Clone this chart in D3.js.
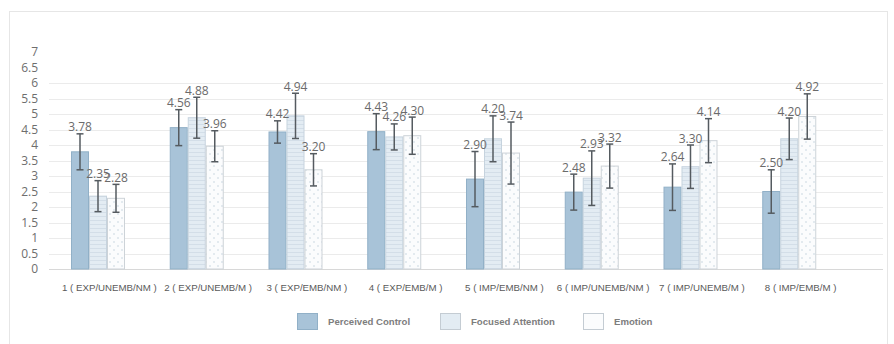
<!DOCTYPE html>
<html>
<head>
<meta charset="utf-8">
<script src="https://cdn.jsdelivr.net/npm/d3@7"></script>
<style>
  html, body { margin: 0; padding: 0; background: #ffffff; }
  svg { display: block; }
</style>
</head>
<body>
<svg id="chart" width="894" height="344"></svg>
<script>
// Conditions (category labels)
const categories = [
  "1 ( EXP/UNEMB/NM )", "2 ( EXP/UNEMB/M )", "3 ( EXP/EMB/NM )", "4 ( EXP/EMB/M )",
  "5 ( IMP/EMB/NM )", "6 ( IMP/UNEMB/NM )", "7 ( IMP/UNEMB/M )", "8 ( IMP/EMB/M )"
];
const seriesNames = ["Perceived Control", "Focused Attention", "Emotion"];

// Mean scores per condition
const perceivedControl = [3.78, 4.56, 4.42, 4.43, 2.90, 2.48, 2.64, 2.50];
const focusedAttention = [2.35, 4.88, 4.94, 4.26, 4.20, 2.93, 3.30, 4.20];
const emotion          = [2.28, 3.96, 3.20, 4.30, 3.74, 3.32, 4.14, 4.92];

// Error bar half-lengths
const perceivedControlErr = [0.58, 0.58, 0.36, 0.58, 0.89, 0.58, 0.75, 0.70];
const focusedAttentionErr = [0.50, 0.66, 0.73, 0.42, 0.74, 0.88, 0.70, 0.67];
const emotionErr          = [0.45, 0.50, 0.52, 0.60, 1.00, 0.71, 0.71, 0.73];

// Axis ticks
const yTickLabels = [0, 0.5, 1, 1.5, 2, 2.5, 3, 3.5, 4, 4.5, 5, 5.5, 6, 6.5, 7];
const gridValues  = [0, 0.5, 1, 1.5, 2, 2.5, 3, 3.5, 4, 4.5, 5, 5.5, 6];

const seriesValues = [perceivedControl, focusedAttention, emotion];
const seriesErrors = [perceivedControlErr, focusedAttentionErr, emotionErr];

const rows = [];
categories.forEach((c, i) => {
  seriesNames.forEach((s, j) => {
    rows.push({ category: c, series: s, value: seriesValues[j][i], err: seriesErrors[j][i] });
  });
});

const svg = d3.select("#chart");

// Outer frame
svg.append("rect")
  .attr("x", 9.5).attr("y", 11.5)
  .attr("width", 878).attr("height", 345)
  .attr("fill", "none").attr("stroke", "#e6e6e6").attr("stroke-width", 1);

// Fill patterns
const defs = svg.append("defs");
const faPat = defs.append("pattern")
  .attr("id", "faPattern").attr("patternUnits", "userSpaceOnUse")
  .attr("width", 4).attr("height", 4);
faPat.append("rect").attr("width", 4).attr("height", 4).attr("fill", "#e3ecf3");
faPat.append("line").attr("x1", 0).attr("x2", 4).attr("y1", 0.5).attr("y2", 0.5)
  .attr("stroke", "#d3dee8").attr("stroke-width", 1);

const emPat = defs.append("pattern")
  .attr("id", "emPattern").attr("patternUnits", "userSpaceOnUse")
  .attr("width", 8).attr("height", 8);
emPat.append("rect").attr("width", 8).attr("height", 8).attr("fill", "#fbfcfd");
emPat.append("circle").attr("cx", 2).attr("cy", 2).attr("r", 0.8).attr("fill", "#c5d3df");
emPat.append("circle").attr("cx", 6).attr("cy", 6).attr("r", 0.8).attr("fill", "#c5d3df");

const fills   = { "Perceived Control": "#a8c3d8", "Focused Attention": "url(#faPattern)", "Emotion": "url(#emPattern)" };
const strokes = { "Perceived Control": "#91b0c7", "Focused Attention": "#c6d3de", "Emotion": "#cdd3d8" };
const legendFills = { "Perceived Control": "#a8c3d8", "Focused Attention": "#e3ecf3", "Emotion": "#fbfcfd" };

// Scales
const y = d3.scaleLinear().domain([0, 7]).range([269, 52]);
const x = d3.scaleBand().domain(categories).range([60, 850]).padding(0);
const xSub = d3.scaleBand().domain(seriesNames).range([11, 65]).padding(0);

// Grid lines
svg.append("g").selectAll("line")
  .data(gridValues)
  .join("line")
  .attr("x1", 49).attr("x2", 883)
  .attr("y1", d => Math.round(y(d)) + 0.5).attr("y2", d => Math.round(y(d)) + 0.5)
  .attr("stroke", d => d === 0 ? "#d8d8d8" : "#ebebeb")
  .attr("stroke-width", 1);

// Y tick labels
svg.append("g").selectAll("text")
  .data(yTickLabels)
  .join("text")
  .attr("x", 38).attr("y", d => y(d))
  .attr("dy", "0.36em")
  .attr("text-anchor", "end")
  .attr("font-family", "'Open Sans', sans-serif")
  .attr("font-size", 12)
  .attr("fill", "#6e6e6e")
  .text(d => d);

// Bars
const barGroup = svg.append("g");
barGroup.selectAll("rect")
  .data(rows)
  .join("rect")
  .attr("x", d => x(d.category) + xSub(d.series) + 0.5)
  .attr("y", d => y(d.value))
  .attr("width", xSub.bandwidth() - 1)
  .attr("height", d => y(0) - y(d.value))
  .attr("fill", d => fills[d.series])
  .attr("stroke", d => strokes[d.series])
  .attr("stroke-width", 1);

// Error bars
const errG = svg.append("g").attr("stroke", "#555b60").attr("stroke-width", 1.5);
const cx = d => x(d.category) + xSub(d.series) + xSub.bandwidth() / 2;
errG.selectAll("line.stem").data(rows).join("line")
  .attr("class", "stem")
  .attr("x1", cx).attr("x2", cx)
  .attr("y1", d => y(d.value + d.err)).attr("y2", d => y(d.value - d.err));
errG.selectAll("line.capTop").data(rows).join("line")
  .attr("class", "capTop")
  .attr("x1", d => cx(d) - 3.5).attr("x2", d => cx(d) + 3.5)
  .attr("y1", d => y(d.value + d.err)).attr("y2", d => y(d.value + d.err));
errG.selectAll("line.capBot").data(rows).join("line")
  .attr("class", "capBot")
  .attr("x1", d => cx(d) - 3.5).attr("x2", d => cx(d) + 3.5)
  .attr("y1", d => y(d.value - d.err)).attr("y2", d => y(d.value - d.err));

// Value labels
svg.append("g").selectAll("text")
  .data(rows)
  .join("text")
  .attr("x", cx)
  .attr("y", d => y(d.value + d.err) - 2.5)
  .attr("text-anchor", "middle")
  .attr("font-family", "'Open Sans', sans-serif")
  .attr("font-size", 12)
  .attr("fill", "#6b6b6b")
  .text(d => d.value.toFixed(2));

// Category labels
svg.append("g").selectAll("text")
  .data(categories)
  .join("text")
  .attr("x", d => x(d) + x.bandwidth() / 2)
  .attr("y", 291)
  .attr("text-anchor", "middle")
  .attr("font-family", "'Liberation Sans', Arial, sans-serif")
  .attr("font-size", 9.7)
  .attr("fill", "#5a5a5a")
  .text(d => d);

// Legend
const legendX = d3.scalePoint().domain(seriesNames).range([297, 583]);
const legend = svg.append("g").selectAll("g")
  .data(seriesNames)
  .join("g")
  .attr("transform", d => `translate(${legendX(d)},313)`);
legend.append("rect")
  .attr("x", 0.5).attr("y", 0.5)
  .attr("width", 20).attr("height", 16)
  .attr("fill", d => legendFills[d])
  .attr("stroke", d => d === "Perceived Control" ? "#91b0c7" : "#c4ccd3")
  .attr("stroke-width", 1);
legend.append("text")
  .attr("x", 31).attr("y", 8.5)
  .attr("dy", "0.35em")
  .attr("font-family", "'Liberation Sans', Arial, sans-serif")
  .attr("font-weight", "bold")
  .attr("font-size", 9.6)
  .attr("fill", "#7d7d7d")
  .text(d => d);
</script>
</body>
</html>
